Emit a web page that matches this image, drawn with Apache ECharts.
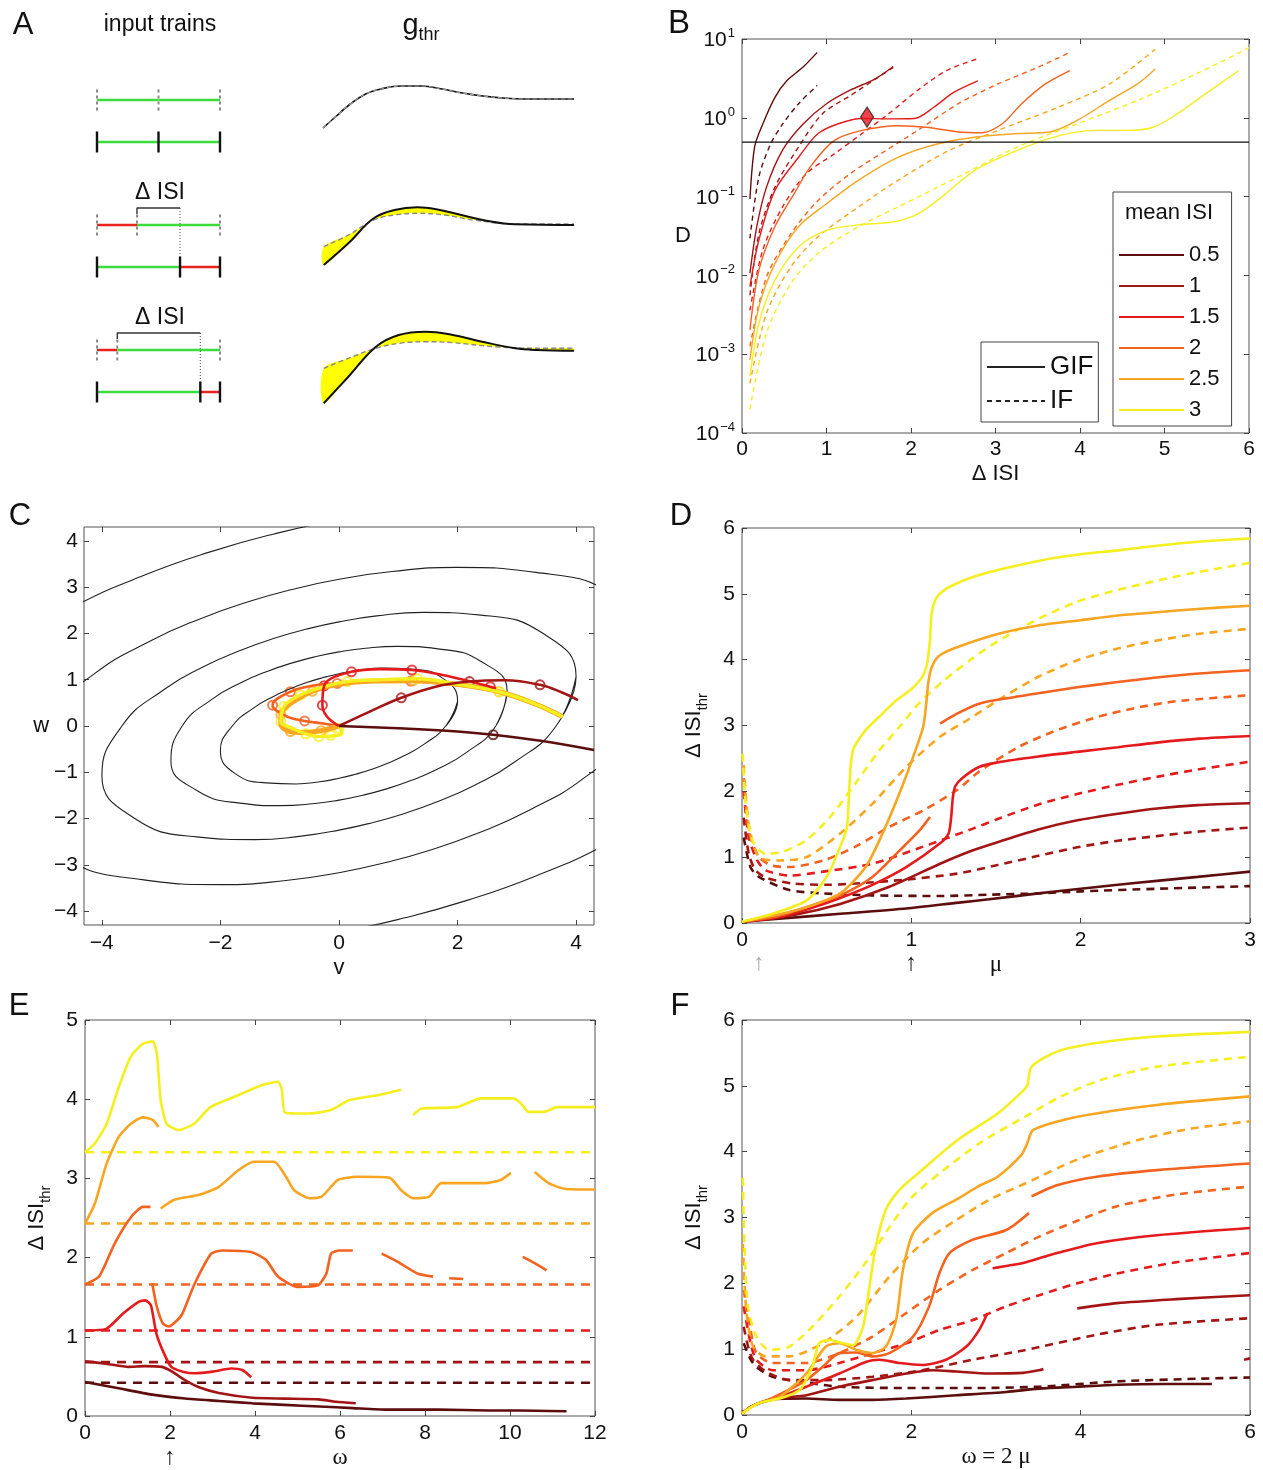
<!DOCTYPE html>
<html>
<head>
<meta charset="utf-8">
<script src="https://cdn.jsdelivr.net/npm/echarts@6/dist/echarts.min.js"></script>
<style>
  html, body { margin: 0; background: #fff; }
  #chart { width: 1263px; height: 1470px; }
</style>
</head>
<body>
<div id="chart"></div>
<script>
// ---------------- data ----------------
const isiNames = ['0.5', '1', '1.5', '2', '2.5', '3'];
const hot = ['#5c0d0d', '#a31515', '#e41a1c', '#f4621f', '#f8a622', '#f5ef1f'];

// A: input trains (spike times, row levels)
const refSpikes = [[0, 1, 2], [0, 0.65, 2], [0, 0.33, 2]];
const testSpikes = [[0, 1, 2], [0, 1.35, 2], [0, 1.68, 2]];
const refLevel = [31, 18.5, 6];
const testLevel = [26.8, 14.3, 1.8];
const refSegColor = [['g', 'g'], ['r', 'g'], ['r', 'g']];
const testSegColor = [['g', 'g'], ['g', 'r'], ['g', 'r']];
const bracketRows = [1, 2];
const bracketLevel = [20.2, 7.7];

// A: g_thr traces
const gRow1 = [[0,28.2],[0.049,29.3],[0.109,30.6],[0.17,31.6],[0.231,32.1],[0.312,32.4],[0.393,32.4],[0.474,32.1],[0.555,31.7],[0.636,31.4],[0.717,31.2],[0.798,31.1],[1,31.1]];
const gRow2Solid = [[0.003,14.5],[0.101,16.67],[0.202,19.17],[0.285,20.0],[0.376,20.27],[0.451,20.07],[0.551,19.5],[0.651,18.93],[0.765,18.57],[1.0,18.5]];
const gRow2Dash = [[0.003,16.33],[0.101,17.5],[0.202,19.0],[0.285,19.5],[0.376,19.67],[0.484,19.5],[0.599,19.0],[0.765,18.6],[1.0,18.6]];
const gRow3Solid = [[0.003,0.67],[0.101,3.33],[0.211,6.33],[0.302,7.5],[0.41,7.83],[0.517,7.5],[0.634,6.83],[0.766,6.17],[0.849,6.0],[1.0,5.93]];
const gRow3Dash = [[0.003,4.17],[0.101,5.17],[0.211,6.17],[0.302,6.67],[0.41,6.83],[0.517,6.73],[0.683,6.33],[0.849,6.17],[1.0,6.17]];

// B: D vs delta ISI
const bGif05 = [[0.094,0.093],[0.15,0.43],[0.245,0.83],[0.39,1.82],[0.53,2.95],[0.72,4.37],[0.89,6.76]];
const bIf05 = [[0.094,0.0295],[0.2,0.178],[0.34,0.468],[0.48,0.83],[0.67,1.51],[0.89,2.57]];
const bGif1 = [[0.094,0.0107],[0.175,0.0417],[0.29,0.132],[0.48,0.389],[0.72,0.83],[1.0,1.51],[1.28,2.24],[1.57,3.09],[1.79,4.47]];
const bIf1 = [[0.094,0.0056],[0.2,0.0339],[0.39,0.132],[0.67,0.427],[0.95,1.12],[1.28,1.91],[1.79,4.37]];
const bGif15 = [[0.094,0.0072],[0.2,0.0282],[0.39,0.12],[0.67,0.316],[0.9,0.631],[1.14,0.84],[1.42,0.98],[1.71,0.97],[2.04,0.98],[2.27,1.36],[2.5,2.09],[2.79,2.95]];
const bIf15 = [[0.094,0.0036],[0.245,0.0209],[0.48,0.0741],[0.76,0.195],[1.09,0.347],[1.42,0.631],[1.71,1.07],[2.08,2.24],[2.42,3.98],[2.79,5.62]];
const bGif2 = [[0.094,0.00204],[0.2,0.0117],[0.39,0.0417],[0.62,0.11],[0.81,0.24],[1.09,0.513],[1.42,0.692],[1.85,0.794],[2.18,0.759],[2.56,0.661],[2.84,0.646],[3.08,0.84],[3.31,1.51],[3.59,2.69],[3.88,3.98]];
const bIf2 = [[0.094,0.00126],[0.29,0.00955],[0.58,0.0339],[0.9,0.0891],[1.28,0.195],[1.71,0.389],[2.08,0.692],[2.56,1.51],[3.03,2.69],[3.5,4.37],[3.88,6.76]];
const bGif25 = [[0.094,0.00085],[0.2,0.00398],[0.39,0.0141],[0.67,0.0417],[1.0,0.0813],[1.38,0.162],[1.85,0.316],[2.32,0.468],[2.79,0.575],[3.26,0.631],[3.64,0.661],[3.97,0.933],[4.35,1.66],[4.68,2.69],[4.89,4.17]];
const bIf25 = [[0.094,0.000427],[0.29,0.00331],[0.58,0.0129],[0.9,0.0309],[1.38,0.0741],[1.85,0.162],[2.46,0.389],[3.03,0.692],[3.74,1.36],[4.35,2.69],[4.89,7.41]];
const bGif3 = [[0.094,0.000525],[0.2,0.00245],[0.39,0.0087],[0.67,0.0229],[1.0,0.0372],[1.38,0.0437],[1.8,0.0479],[2.08,0.0603],[2.37,0.1],[2.75,0.214],[3.22,0.372],[3.69,0.569],[4.16,0.692],[4.54,0.692],[4.87,0.759],[5.15,1.12],[5.48,2.0],[5.88,3.98]];
const bIf3 = [[0.094,0.0002],[0.29,0.00186],[0.58,0.00794],[0.9,0.0191],[1.38,0.0417],[1.85,0.0741],[2.56,0.178],[3.26,0.427],[3.97,0.84],[4.68,1.66],[5.38,3.63],[6.0,7.76]];
const bThreshold = 0.49;
const bMarker = [[1.48, 1.02]];

// C: phase plane contours (v, w)
const cont1 = [[1.799,0],[2.0,0.536],[1.763,1.018],[1.229,1.229],[0.723,1.252],[0.323,1.204],[0,1.13],[-0.279,1.042],[-0.542,0.939],[-0.81,0.81],[-1.105,0.638],[-1.443,0.387],[-1.799,0],[-2.0,-0.536],[-1.763,-1.018],[-1.229,-1.229],[-0.723,-1.252],[-0.323,-1.204],[0,-1.13],[0.279,-1.042],[0.542,-0.939],[0.81,-0.81],[1.105,-0.638],[1.443,-0.387],[1.799,0],[2.0,0.536]];
const cont2 = [[2.644,0],[2.834,0.759],[2.404,1.388],[1.667,1.667],[0.993,1.721],[0.45,1.681],[0,1.601],[-0.401,1.496],[-0.787,1.364],[-1.19,1.19],[-1.637,0.945],[-2.145,0.575],[-2.644,0],[-2.834,-0.759],[-2.404,-1.388],[-1.667,-1.667],[-0.993,-1.721],[-0.45,-1.681],[0,-1.601],[0.401,-1.496],[0.787,-1.364],[1.19,-1.19],[1.637,-0.945],[2.145,-0.575],[2.644,0],[2.834,0.759]];
const cont3 = [[3.661,0],[3.998,1.071],[3.451,1.992],[2.395,2.395],[1.418,2.455],[0.637,2.379],[0,2.25],[-0.56,2.089],[-1.093,1.894],[-1.644,1.644],[-2.253,1.301],[-2.949,0.79],[-3.661,0],[-3.998,-1.071],[-3.451,-1.992],[-2.395,-2.395],[-1.418,-2.455],[-0.637,-2.379],[0,-2.25],[0.56,-2.089],[1.093,-1.894],[1.644,-1.644],[2.253,-1.301],[2.949,-0.79],[3.661,0],[3.998,1.071]];
const cont4 = [[5.103,0],[5.511,1.476],[4.747,2.741],[3.319,3.319],[1.979,3.428],[0.895,3.34],[0,3.17],[-0.79,2.95],[-1.546,2.678],[-2.325,2.325],[-3.182,1.837],[-4.146,1.111],[-5.103,0],[-5.511,-1.476],[-4.747,-2.741],[-3.319,-3.319],[-1.979,-3.428],[-0.895,-3.34],[0,-3.17],[0.79,-2.95],[1.546,-2.678],[2.325,-2.325],[3.182,-1.837],[4.146,-1.111],[5.103,0],[5.511,1.476]];
const cont5 = [[7.17,0],[7.743,2.074],[6.67,3.851],[4.663,4.663],[2.78,4.816],[1.257,4.693],[0,4.454],[-1.11,4.145],[-2.172,3.763],[-3.267,3.267],[-4.471,2.581],[-5.825,1.561],[-7.17,0],[-7.743,-2.074],[-6.67,-3.851],[-4.663,-4.663],[-2.78,-4.816],[-1.257,-4.693],[0,-4.454],[1.11,-4.145],[2.172,-3.763],[3.267,-3.267],[4.471,-2.581],[5.825,-1.561],[7.17,0],[7.743,2.074]];

// C: trajectories and their sample markers
const cTraj05 = [[0,0],[1,-0.05],[2,-0.12],[2.6,-0.19],[3.4,-0.32],[4.3,-0.52]];
const cTraj1 = [[0,0],[0.5,0.3],[1.05,0.61],[1.63,0.85],[2.2,0.96],[2.8,0.99],[3.39,0.89],[3.75,0.73],[4.03,0.56]];
const cTraj15 = [[0,0],[-0.2,0.2],[-0.28,0.45],[-0.25,0.87],[0.21,1.17],[0.7,1.23],[1.23,1.21],[1.9,1.06],[2.55,0.85],[2.65,0.82]];
const cTraj2 = [[0,0],[-0.3,0.06],[-0.58,0.11],[-0.9,0.22],[-1.12,0.45],[-0.82,0.74],[-0.4,0.88],[-0.03,0.92],[0.6,0.98],[1.21,0.97],[2.0,0.88],[2.7,0.74],[3.3,0.48],[3.77,0.2]];
const cTraj25 = [[0,0],[-0.3,-0.1],[-0.6,-0.14],[-0.82,-0.12],[-0.98,0.05],[-0.98,0.24],[-0.8,0.5],[-0.45,0.75],[0,0.9],[0.6,0.97],[1.25,0.98],[2.0,0.9],[2.7,0.74],[3.3,0.48],[3.77,0.2]];
const cTraj3 = [[0,0],[0.05,-0.15],[-0.14,-0.22],[-0.34,-0.23],[-0.56,-0.17],[-0.8,-0.04],[-0.98,0.09],[-0.93,0.42],[-0.65,0.67],[-0.25,0.85],[0.14,0.96],[0.7,1.0],[1.32,1.02],[2.0,0.9],[2.7,0.74],[3.3,0.48],[3.77,0.2]];
const cMk05 = [[2.6,-0.19]];
const cMk1 = [[1.05,0.61],[2.2,0.96],[3.39,0.89]];
const cMk15 = [[-0.28,0.45],[-0.25,0.87],[0.21,1.17],[1.23,1.21],[2.55,0.85]];
const cMk2 = [[-0.58,0.11],[-1.12,0.45],[-0.82,0.74],[-0.03,0.92],[1.21,0.97]];
const cMk25 = [[-0.3,-0.1],[-0.82,-0.12],[-0.98,0.24],[-0.45,0.75],[1.25,0.98],[2.7,0.74]];
const cMk3 = [[0,-0.05],[-0.14,-0.2],[-0.34,-0.23],[-0.56,-0.17],[-0.98,0.09],[-0.93,0.42],[-0.65,0.67],[0.14,0.96],[1.32,1.02],[2.7,0.74]];

// D: threshold vs mu
const dGif05 = [[0,0.02],[0.2,0.06],[0.58,0.14],[0.97,0.22],[1.28,0.31],[1.46,0.36],[1.75,0.45],[2.0,0.52],[2.22,0.58],[2.45,0.64],[2.69,0.7],[3.0,0.78]];
const dGif1 = [[0,0.02],[0.3,0.12],[0.58,0.29],[0.87,0.55],[1.17,0.9],[1.36,1.1],[1.5,1.22],[1.75,1.42],[1.98,1.56],[2.22,1.66],[2.45,1.74],[2.69,1.79],[3.0,1.82]];
const dGif15 = [[0,0.02],[0.2,0.08],[0.4,0.22],[0.58,0.38],[0.77,0.58],[0.97,0.85],[1.17,1.21],[1.22,1.36],[1.235,1.6],[1.245,1.9],[1.26,2.08],[1.3,2.2],[1.4,2.37],[1.51,2.44],[1.75,2.53],[1.98,2.6],[2.22,2.67],[2.45,2.74],[2.7,2.8],[3.0,2.84]];
const dGif2a = [[0,0.02],[0.2,0.1],[0.38,0.24],[0.58,0.42],[0.77,0.7],[0.93,1.1],[1.05,1.41],[1.11,1.61]];
const dGif2b = [[1.17,3.03],[1.27,3.18],[1.4,3.33],[1.51,3.39],[1.75,3.49],[1.98,3.58],[2.22,3.66],[2.45,3.73],[2.7,3.79],[3.0,3.84]];
const dGif25 = [[0,0.02],[0.2,0.12],[0.38,0.24],[0.58,0.45],[0.73,0.85],[0.83,1.36],[0.93,1.97],[1.01,2.52],[1.07,2.98],[1.09,3.38],[1.1,3.65],[1.12,3.88],[1.16,4.05],[1.25,4.17],[1.51,4.39],[1.75,4.52],[2.0,4.6],[2.22,4.67],[2.45,4.72],[2.69,4.77],[3.0,4.82]];
const dGif3 = [[0,0.02],[0.18,0.14],[0.38,0.34],[0.5,0.7],[0.58,1.16],[0.62,1.46],[0.635,2.12],[0.655,2.62],[0.73,2.93],[0.83,3.18],[0.91,3.38],[1.0,3.55],[1.06,3.72],[1.09,3.9],[1.11,4.3],[1.12,4.7],[1.15,4.95],[1.22,5.1],[1.39,5.28],[1.75,5.5],[2.0,5.6],[2.22,5.66],[2.45,5.73],[2.69,5.79],[3.0,5.84]];
const dIf05 = [[0.01,1.3],[0.05,0.85],[0.1,0.7],[0.28,0.5],[0.48,0.45],[0.77,0.42],[1.17,0.41],[1.46,0.43],[1.75,0.45],[2.0,0.48],[2.45,0.52],[3.0,0.56]];
const dIf1 = [[0.01,1.6],[0.04,1.05],[0.08,0.8],[0.15,0.68],[0.3,0.6],[0.5,0.58],[0.67,0.6],[0.97,0.66],[1.27,0.75],[1.51,0.88],[1.75,1.02],[1.98,1.15],[2.22,1.25],[2.45,1.32],[2.7,1.39],[3.0,1.45]];
const dIf15 = [[0.01,2.0],[0.04,1.3],[0.09,0.95],[0.14,0.8],[0.28,0.72],[0.48,0.78],[0.77,0.9],[1.07,1.16],[1.36,1.43],[1.51,1.58],[1.75,1.8],[1.98,1.96],[2.22,2.1],[2.45,2.22],[2.69,2.33],[3.0,2.45]];
const dIf2 = [[0.01,2.2],[0.04,1.4],[0.1,1.0],[0.18,0.87],[0.28,0.85],[0.48,0.95],[0.67,1.16],[0.87,1.46],[1.07,1.71],[1.27,2.02],[1.4,2.3],[1.63,2.67],[1.86,2.93],[2.1,3.13],[2.33,3.27],[2.57,3.37],[3.0,3.46]];
const dIf25 = [[0.01,2.4],[0.04,1.5],[0.1,1.0],[0.22,0.95],[0.38,1.0],[0.58,1.36],[0.77,1.81],[0.97,2.37],[1.17,2.83],[1.33,3.08],[1.51,3.38],[1.75,3.74],[1.98,3.99],[2.22,4.17],[2.45,4.29],[2.69,4.39],[3.0,4.47]];
const dIf3 = [[0.004,2.57],[0.02,1.86],[0.06,1.26],[0.14,1.05],[0.24,1.08],[0.38,1.26],[0.52,1.61],[0.67,2.12],[0.81,2.62],[0.93,2.98],[1.05,3.35],[1.2,3.7],[1.35,4.0],[1.51,4.28],[1.75,4.62],[1.98,4.88],[2.22,5.06],[2.45,5.2],[2.69,5.33],[3.0,5.47]];
const dArrows = [0.1, 1];

// E: threshold vs omega
const eGif05 = [[0,0.43],[0.79,0.35],[1.58,0.27],[2.36,0.22],[3.15,0.19],[3.94,0.16],[4.7,0.14],[5.52,0.12],[6.3,0.1],[7.09,0.08],[8.3,0.08],[9.5,0.07],[10.2,0.07],[11.33,0.06]];
const eGif1 = [[0,0.69],[0.5,0.66],[1.02,0.62],[1.4,0.63],[1.81,0.62],[2.05,0.56],[2.36,0.45],[2.7,0.36],[3.15,0.29],[3.94,0.23],[4.7,0.22],[5.5,0.21],[5.9,0.18],[6.37,0.16]];
const eGif15 = [[0,1.08],[0.5,1.1],[0.89,1.29],[1.26,1.44],[1.42,1.46],[1.55,1.4],[1.68,1.04],[1.85,0.8],[2.03,0.62],[2.3,0.56],[2.58,0.54],[3.0,0.56],[3.44,0.6],[3.7,0.58],[3.91,0.49]];
const eGif2a = [[0,1.66],[0.33,1.76],[0.7,2.18],[1.08,2.51],[1.36,2.64],[1.54,2.64]];
const eGif2b = [[1.58,1.68],[1.69,1.38],[1.83,1.17],[1.97,1.13],[2.15,1.2],[2.29,1.29],[2.58,1.67],[2.97,2.05],[3.23,2.09],[3.91,2.07],[4.26,1.97],[4.54,1.76],[5.0,1.63],[5.48,1.65],[5.68,1.8],[5.79,2.05],[5.99,2.09],[6.3,2.09]];
const eGif2c = [[6.98,2.05],[7.35,1.95],[7.82,1.8],[8.19,1.76]];
const eGif2d = [[8.57,1.74],[8.9,1.73]];
const eGif2e = [[10.3,2.01],[10.58,1.93],[10.86,1.84]];
const eGif25a = [[0,2.43],[0.23,2.68],[0.51,3.19],[0.8,3.53],[1.08,3.69],[1.36,3.77],[1.59,3.74],[1.73,3.65]];
const eGif25b = [[1.78,2.62],[2.1,2.73],[2.67,2.79],[3.14,2.89],[3.6,3.1],[3.98,3.21],[4.45,3.21],[4.73,3.02],[4.92,2.85],[5.29,2.75],[5.57,2.77],[5.95,2.98],[6.41,3.02],[7.16,3.01],[7.44,2.85],[7.72,2.75],[8.1,2.77],[8.38,2.94],[9.41,2.94],[9.78,2.98],[10.02,3.07]];
const eGif25c = [[10.58,3.08],[10.91,2.94],[11.28,2.87],[12,2.86]];
const eGif3a = [[0,3.33],[0.23,3.44],[0.51,3.69],[0.8,4.16],[1.08,4.54],[1.36,4.7],[1.59,4.73],[1.69,4.58],[1.78,3.99],[1.92,3.69],[2.2,3.61],[2.57,3.69],[2.95,3.9],[3.6,4.05],[4.17,4.18],[4.54,4.22],[4.63,4.12],[4.71,3.83],[5.29,3.82],[5.76,3.86],[6.23,3.99],[6.88,4.05],[7.44,4.12]];
const eGif3b = [[7.72,3.8],[7.91,3.88],[8.75,3.9],[9.32,4.01],[10.07,4.01],[10.25,3.95],[10.44,3.84],[10.81,3.84],[11.1,3.9],[12,3.9]];
const eIfLevels = [0.42, 0.68, 1.08, 1.66, 2.43, 3.33];
const eArrows = [2];

// F: threshold vs omega = 2 mu
const fGif05 = [[0,0.02],[0.1,0.12],[0.2,0.18],[0.36,0.24],[0.76,0.25],[1.15,0.23],[1.54,0.23],[1.94,0.25],[2.53,0.3],[3.12,0.35],[3.51,0.4],[3.96,0.43],[4.43,0.46],[5.0,0.47],[5.55,0.47]];
const fGif1a = [[0,0.02],[0.1,0.12],[0.2,0.18],[0.4,0.25],[0.76,0.3],[1.15,0.43],[1.54,0.53],[1.94,0.63],[2.25,0.68],[2.53,0.66],[2.92,0.63],[3.32,0.64],[3.51,0.68],[3.56,0.7]];
const fGif1b = [[3.96,1.62],[4.43,1.7],[5.13,1.76],[6.0,1.82]];
const fGif15a = [[0,0.02],[0.1,0.12],[0.2,0.18],[0.4,0.25],[0.76,0.43],[1.15,0.63],[1.47,0.81],[1.62,0.84],[1.86,0.79],[2.13,0.76],[2.41,0.84],[2.65,1.04],[2.8,1.29],[2.9,1.55]];
const fGif15b = [[2.96,2.23],[3.32,2.31],[3.51,2.38],[3.72,2.46],[4.19,2.61],[4.9,2.73],[6.0,2.84]];
const fGif2a = [[0,0.02],[0.1,0.12],[0.2,0.18],[0.36,0.26],[0.76,0.53],[0.95,0.73],[1.15,0.94],[1.35,0.95],[1.54,0.89],[1.74,0.94],[2.02,1.19],[2.21,1.65],[2.33,2.15],[2.45,2.46],[2.72,2.66],[3.12,2.81],[3.39,3.07]];
const fGif2b = [[3.42,3.32],[3.72,3.49],[4.19,3.62],[4.9,3.72],[6.0,3.82]];
const fGif25 = [[0,0.02],[0.1,0.12],[0.2,0.18],[0.44,0.27],[0.76,0.63],[0.99,1.04],[1.15,1.09],[1.35,0.99],[1.54,0.94],[1.7,1.04],[1.82,1.44],[1.9,2.2],[2.02,2.76],[2.25,3.07],[2.53,3.27],[2.8,3.48],[3.02,3.62],[3.3,3.95],[3.37,4.13],[3.44,4.33],[3.96,4.53],[4.9,4.71],[6.0,4.84]];
const fGif3 = [[0,0.02],[0.2,0.18],[0.44,0.25],[0.68,0.38],[0.83,0.73],[0.91,1.09],[1.03,1.14],[1.19,1.09],[1.31,1.06],[1.43,1.34],[1.5,1.9],[1.58,2.56],[1.7,3.12],[1.86,3.42],[2.08,3.67],[2.55,4.18],[3.02,4.58],[3.3,4.9],[3.37,5.01],[3.42,5.29],[3.72,5.52],[4.19,5.65],[4.9,5.75],[6.0,5.82]];
const fIf05 = [[0.02,1.09],[0.1,0.85],[0.17,0.73],[0.36,0.58],[0.68,0.51],[1.15,0.43],[1.94,0.41],[2.72,0.41],[3.51,0.43],[4.43,0.51],[5.37,0.55],[6.0,0.57]];
const fIf1a = [[0.02,1.34],[0.08,1.0],[0.13,0.84],[0.28,0.66],[0.56,0.53],[0.95,0.53],[1.54,0.58],[2.13,0.68],[2.72,0.84],[3.32,0.98],[4.19,1.22],[4.9,1.37],[6.0,1.47]];
const fIf1b = [[5.93,0.84],[6.0,0.86]];
const fIf15 = [[0.02,1.65],[0.1,1.1],[0.17,0.84],[0.36,0.68],[0.76,0.68],[1.15,0.79],[1.54,0.94],[1.94,1.09],[2.33,1.29],[2.72,1.44],[3.12,1.65],[3.51,1.82],[3.96,2.0],[4.43,2.15],[5.13,2.32],[6.0,2.46]];
const fIf2 = [[0.02,1.9],[0.1,1.3],[0.17,0.94],[0.36,0.79],[0.76,0.79],[1.15,0.94],[1.54,1.19],[1.94,1.55],[2.33,1.9],[2.72,2.2],[3.12,2.46],[3.51,2.71],[3.96,2.95],[4.43,3.17],[5.13,3.35],[6.0,3.47]];
const fIf25 = [[0.01,2.6],[0.05,1.6],[0.13,1.04],[0.28,0.89],[0.56,0.89],[0.95,1.09],[1.35,1.49],[1.74,2.1],[2.13,2.61],[2.53,2.96],[2.92,3.27],[3.35,3.52],[3.96,3.88],[4.66,4.17],[5.3,4.35],[6.0,4.46]];
const fIf3 = [[0.01,3.6],[0.03,2.56],[0.07,1.65],[0.17,1.19],[0.32,0.99],[0.56,1.04],[0.83,1.34],[1.15,1.8],[1.47,2.33],[1.74,2.85],[2.0,3.3],[2.36,3.7],[2.83,4.15],[3.3,4.5],[3.77,4.84],[4.24,5.09],[4.9,5.29],[6.0,5.44]];

// ---------------- chart ----------------
const FONT = 'Liberation Sans, Arial, Helvetica, sans-serif';
const SERIF = 'Liberation Serif, DejaVu Serif, serif';
const GREEN = '#3ddc3d', RED = '#e8231e';
const myChart = echarts.init(document.getElementById('chart'));

const xAxis = [], yAxis = [], series = [], AX = [];
const TICK = { show: true, inside: true, length: 5, lineStyle: { color: '#444', width: 1 } };
const LABEL = { show: true, color: '#111', fontSize: 21, fontFamily: FONT, margin: 7 };

function hiddenAxes(grid, xr, yr) {
  AX[grid] = { x: xAxis.length, y: yAxis.length };
  xAxis.push({ gridIndex: grid, type: 'value', min: xr[0], max: xr[1], show: false });
  yAxis.push({ gridIndex: grid, type: 'value', min: yr[0], max: yr[1], show: false });
}

function boxAxes(grid, xs, ys) {
  AX[grid] = { x: xAxis.length, y: yAxis.length };
  const mk = (s, pos, main) => {
    const a = {
      gridIndex: grid, type: s.type || 'value', min: s.min, max: s.max, position: pos,
      axisLine: { show: false, onZero: false }, splitLine: { show: false },
      axisTick: Object.assign({}, TICK, s.ticks ? { customValues: s.ticks } : {}),
      axisLabel: main ? Object.assign({}, LABEL, s.label || {}, s.ticks ? { customValues: s.ticks } : {}) : { show: false }
    };
    if (s.interval != null) a.interval = s.interval;
    if (main && s.name) {
      Object.assign(a, {
        name: s.name, nameLocation: 'middle', nameGap: s.gap, nameRotate: s.rotate || 0,
        nameTextStyle: Object.assign({ color: '#111', fontSize: 22, fontFamily: FONT }, s.nameStyle || {})
      });
    }
    return a;
  };
  xAxis.push(mk(xs, 'bottom', true)); xAxis.push(mk(xs, 'top', false));
  yAxis.push(mk(ys, 'left', true)); yAxis.push(mk(ys, 'right', false));
}

function addLine(grid, data, color, width, type, extra) {
  series.push(Object.assign({
    type: 'line', xAxisIndex: AX[grid].x, yAxisIndex: AX[grid].y, data: data,
    symbol: 'none', showSymbol: false, silent: true, smooth: false,
    itemStyle: { color: color },
    lineStyle: { color: color, width: width, type: type || 'solid' }
  }, extra || {}));
}

function addFill(grid, upper, lower) {
  const poly = upper.concat(lower.slice().reverse());
  series.push({
    type: 'custom', xAxisIndex: AX[grid].x, yAxisIndex: AX[grid].y, data: poly, silent: true,
    renderItem: function (params, api) {
      if (params.dataIndex !== 0) return null;
      return { type: 'polygon', shape: { points: poly.map(p => api.coord(p)), smooth: 0.3 }, style: { fill: '#ffff00', stroke: 'none' } };
    }
  });
}

const grids = [
  { left: 97, top: 70, width: 123, height: 340 },    // 0 A trains
  { left: 323, top: 70, width: 251, height: 340 },   // 1 A g_thr
  { left: 742, top: 39, width: 507, height: 394 },   // 2 B
  { left: 84, top: 527, width: 510, height: 398 },   // 3 C
  { left: 742, top: 528, width: 508, height: 395 },  // 4 D
  { left: 85, top: 1020, width: 510, height: 396 },  // 5 E
  { left: 742, top: 1020, width: 508, height: 395 }  // 6 F
].map((g, i) => Object.assign({ containLabel: false, show: i >= 2, borderColor: '#555', borderWidth: 1 }, g));

// ----- A -----
hiddenAxes(0, [0, 2], [0, 34]);
hiddenAxes(1, [0, 1], [0, 34]);
for (let r = 0; r < 3; r++) {
  [[refSpikes, refLevel, refSegColor, true], [testSpikes, testLevel, testSegColor, false]].forEach(([sp, lv, sc, isRef]) => {
    const t = sp[r], y = lv[r];
    for (let k = 0; k < t.length - 1; k++) addLine(0, [[t[k], y], [t[k + 1], y]], sc[r][k] === 'g' ? GREEN : RED, 2.6);
    t.forEach(s => addLine(0, [[s, y - 1.05], [s, y + 1.05]], isRef ? '#8a8a8a' : '#111', isRef ? 2 : 2.4, isRef ? [3, 3] : 'solid'));
  });
}
bracketRows.forEach((r, i) => {
  const a = refSpikes[r][1], b = testSpikes[r][1], top = bracketLevel[i];
  addLine(0, [[a, refLevel[r] + 1.1], [a, top], [b, top]], '#333', 1.4);
  addLine(0, [[b, top], [b, testLevel[r] + 1.05]], '#333', 0.9, [1, 2]);
});

addLine(1, gRow1, '#111', 1.6, 'solid', { smooth: 0.4 });
addLine(1, gRow1, '#999', 1.2, [4, 3], { smooth: 0.4 });
addFill(1, gRow2Solid, gRow2Dash);
addFill(1, gRow3Solid, gRow3Dash);
addLine(1, gRow2Dash, '#888', 1.4, [5, 3], { smooth: 0.4 });
addLine(1, gRow3Dash, '#888', 1.4, [5, 3], { smooth: 0.4 });
addLine(1, gRow2Solid, '#111', 2, 'solid', { smooth: 0.4 });
addLine(1, gRow3Solid, '#111', 2, 'solid', { smooth: 0.4 });

// ----- B -----
const supMinus = s => s.replace('-', '\u2212');
boxAxes(2,
  { min: 0, max: 6, interval: 1, name: 'Δ ISI', gap: 30, label: { margin: 6 } },
  { type: 'log', min: 0.0001, max: 10, name: 'D', gap: 40,
    label: {
      margin: 7,
      formatter: v => '{b|10}{s|' + supMinus(String(Math.round(Math.log10(v)))) + '}',
      rich: {
        b: { fontSize: 21, fontFamily: FONT, color: '#111', verticalAlign: 'bottom' },
        s: { fontSize: 13, fontFamily: FONT, color: '#111', verticalAlign: 'bottom', padding: [0, 0, 11, 1] }
      }
    } });
const bGif = [bGif05, bGif1, bGif15, bGif2, bGif25, bGif3];
const bIf = [bIf05, bIf1, bIf15, bIf2, bIf25, bIf3];
bIf.forEach((d, i) => addLine(2, d, hot[i], 1.4, [5, 4], { name: 'IF ' + isiNames[i], smooth: 0.3 }));
bGif.forEach((d, i) => addLine(2, d, hot[i], 1.4, 'solid', { name: isiNames[i], smooth: 0.3 }));
addLine(2, [[0, bThreshold], [6, bThreshold]], '#111', 1.3);
series.push({ type: 'scatter', xAxisIndex: AX[2].x, yAxisIndex: AX[2].y, data: bMarker, symbol: 'diamond', symbolSize: [13, 20], silent: true,
  itemStyle: { color: '#e8141c', borderColor: '#222', borderWidth: 1.2 }, z: 5 });
addLine(2, [], '#222', 1, 'solid', { name: 'GIF' });
addLine(2, [], '#222', 1, [5, 4], { name: 'IF' });

// ----- C -----
const minusFmt = v => supMinus(String(v));
boxAxes(3,
  { min: -4.3, max: 4.3, ticks: [-4, -2, 0, 2, 4], name: 'v', gap: 32, label: { margin: 8, formatter: minusFmt } },
  { min: -4.3, max: 4.3, ticks: [-4, -3, -2, -1, 0, 1, 2, 3, 4], name: 'w', gap: 30, label: { margin: 6, formatter: minusFmt } });
[cont1, cont2, cont3, cont4, cont5].forEach(d => addLine(3, d, '#222', 1.1, 'solid', { smooth: 0.5 }));
const cTraj = [cTraj05, cTraj1, cTraj15, cTraj2, cTraj25, cTraj3];
const cMk = [cMk05, cMk1, cMk15, cMk2, cMk25, cMk3];
const cOrder = [3, 4, 5, 2, 1, 0];
const cWidth = [2.6, 2.6, 2.6, 2.6, 5, 3.4];
cOrder.forEach(i => {
  addLine(3, cTraj[i], hot[i], cWidth[i], 'solid', { smooth: 0.4 });
  series.push({ type: 'scatter', xAxisIndex: AX[3].x, yAxisIndex: AX[3].y, data: cMk[i], symbol: 'emptyCircle', symbolSize: 9, silent: true,
    itemStyle: { color: hot[i], borderColor: hot[i], borderWidth: 3.2 } });
});

// ----- D / E / F -----
const thrName = {
  name: '{a|Δ ISI}{s|thr}', rotate: 90, gap: 32,
  nameStyle: { rich: { a: { fontSize: 22, fontFamily: FONT, color: '#111', verticalAlign: 'bottom', padding: [0, 0, 5, 0] },
                       s: { fontSize: 15, fontFamily: FONT, color: '#111', verticalAlign: 'bottom' } } }
};
const serifName = { fontFamily: SERIF, fontSize: 23 };
boxAxes(4, { min: 0, max: 3, interval: 1, name: 'μ', gap: 30, nameStyle: serifName }, Object.assign({ min: 0, max: 6, interval: 1 }, thrName));
boxAxes(5, { min: 0, max: 12, interval: 2, name: 'ω', gap: 30, nameStyle: serifName }, Object.assign({ min: 0, max: 5, interval: 1 }, thrName));
boxAxes(6, { min: 0, max: 6, interval: 2, name: 'ω = 2 μ', gap: 30, nameStyle: serifName }, Object.assign({ min: 0, max: 6, interval: 1 }, thrName));

const DASH = [8, 6];
const W = 2.6;
const dSolid = [[dGif05], [dGif1], [dGif15], [dGif2a, dGif2b], [dGif25], [dGif3]];
const dDash = [dIf05, dIf1, dIf15, dIf2, dIf25, dIf3];
dDash.forEach((d, i) => addLine(4, d, hot[i], W, DASH, { smooth: 0.25 }));
dSolid.forEach((segs, i) => segs.forEach(d => addLine(4, d, hot[i], W, 'solid', { smooth: 0.25 })));

eIfLevels.forEach((v, i) => addLine(5, [[0, v], [12, v]], hot[i], W, [9, 7]));
const eSolid = [[eGif05], [eGif1], [eGif15], [eGif2a, eGif2b, eGif2c, eGif2d, eGif2e], [eGif25a, eGif25b, eGif25c], [eGif3a, eGif3b]];
eSolid.forEach((segs, i) => segs.forEach(d => addLine(5, d, hot[i], W, 'solid', { smooth: 0.2 })));

const fDash = [[fIf05], [fIf1a, fIf1b], [fIf15], [fIf2], [fIf25], [fIf3]];
const fSolid = [[fGif05], [fGif1a, fGif1b], [fGif15a, fGif15b], [fGif2a, fGif2b], [fGif25], [fGif3]];
fDash.forEach((segs, i) => segs.forEach(d => addLine(6, d, hot[i], W, DASH, { smooth: 0.25 })));
fSolid.forEach((segs, i) => segs.forEach(d => addLine(6, d, hot[i], W, 'solid', { smooth: 0.25 })));

// ----- texts -----
function txt(text, x, y, size, extra) {
  return Object.assign({
    type: 'text', x: x, y: y, z: 100,
    style: Object.assign({ text: text, fontSize: size, fontFamily: FONT, fill: '#111', textAlign: 'center', textVerticalAlign: 'middle', align: 'center', verticalAlign: 'middle' }, extra || {})
  });
}
const graphics = [
  txt('A', 23, 25, 31), txt('B', 679, 24, 33), txt('C', 20, 516, 31),
  txt('D', 681, 516, 31), txt('E', 19, 1006, 31), txt('F', 680, 1006, 31),
  txt('input trains', 160, 25, 23),
  txt('{g|g}{t|thr}', 421, 28, 28, { rich: { g: { fontSize: 29, fontFamily: FONT, fill: '#111', verticalAlign: 'bottom', padding: [0, 0, 4, 0] }, t: { fontSize: 18, fontFamily: FONT, fill: '#111', verticalAlign: 'bottom' } } }),
  txt('Δ ISI', 160, 193, 23), txt('Δ ISI', 160, 318, 23),
  txt('mean ISI', 1169, 213, 22)
];

const legendBase = { orient: 'vertical', borderColor: '#444', borderWidth: 1, backgroundColor: '#fff', selectedMode: false,
  itemStyle: { opacity: 0 } };
const option = {
  animation: false,
  textStyle: { fontFamily: FONT },
  grid: grids,
  xAxis: xAxis,
  yAxis: yAxis,
  legend: [
    Object.assign({ data: isiNames, left: 1113, top: 192, padding: [52, 12, 5, 5],
      itemWidth: 65, itemHeight: 20, itemGap: 9,
      textStyle: { fontSize: 22, fontFamily: FONT, color: '#111' } }, legendBase),
    Object.assign({ data: ['GIF', 'IF'], left: 981, top: 342, padding: [12, 5, 8, 5],
      itemWidth: 58, itemHeight: 22, itemGap: 8,
      textStyle: { fontSize: 26, fontFamily: FONT, color: '#111' } }, legendBase)
  ],
  graphic: graphics,
  series: series
};
myChart.setOption(option);

// arrows under the x axes of D and E, placed through the axes' own scales
const arrows = [];
dArrows.forEach((v, i) => {
  const p = myChart.convertToPixel({ gridIndex: 4 }, [v, 0]);
  arrows.push(txt('↑', p[0], p[1] + 40, 24, { fill: i === 0 ? '#aaa' : '#111' }));
});
eArrows.forEach(v => {
  const p = myChart.convertToPixel({ gridIndex: 5 }, [v, 0]);
  arrows.push(txt('↑', p[0], p[1] + 41, 24));
});
myChart.setOption({ graphic: graphics.concat(arrows) });
</script>
</body>
</html>
